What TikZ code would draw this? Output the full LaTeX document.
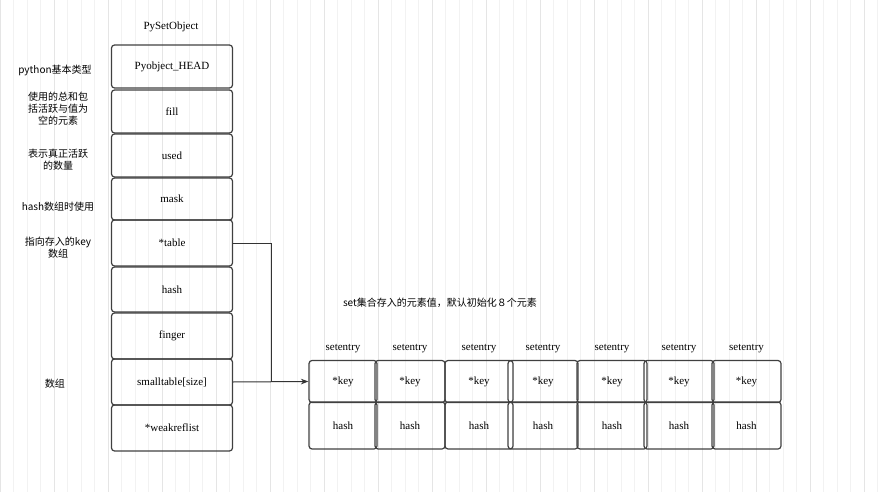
\documentclass[tikz,border=0pt]{standalone}
\usepackage{fontspec}
\setmainfont{Liberation Serif}
\newfontfamily\cjk{Noto Sans CJK SC}
\usetikzlibrary{arrows.meta}
\begin{document}
\begin{tikzpicture}[x=1pt,y=-1pt,>=Stealth,
    cell/.style={draw=black!75,line width=1.2pt,rounded corners=3pt,font=\fontsize{11}{11}\selectfont},
    note/.style={font=\cjk\fontsize{10}{12}\selectfont,align=center,text width=90pt},
    head/.style={font=\fontsize{11}{11}\selectfont}]
  \useasboundingbox (0,0) rectangle (879,492);
  \draw[black!5,step=13.5] (0,0) grid (879,492);
  \draw[black!10,step=54] (0,0) grid (879,492);
  \node[head] (title) at (171,27) {PySetObject};
  % left column
  \foreach \name/\txt/\ya/\yb in {head/Pyobject\_HEAD/45/88, fill/fill/90/133, used/used/134/177,
      mask/mask/178/220, table/*table/220/266, hash/hash/267/312, finger/finger/313/359,
      small/smalltable[size]/359/405, weak/*weakreflist/405/451}
    \node[cell,minimum width=121pt,minimum height={\yb-\ya}] (\name) at (172,{(\ya+\yb)/2}) {\txt};
  \node[note] (n1) at (55,70) {python基本类型};
  \node[note] (n2) at (58,109) {使用的总和包\\括活跃与值为\\空的元素};
  \node[note] (n3) at (58,160) {表示真正活跃\\的数量};
  \node[note] (n4) at (58,207) {hash数组时使用};
  \node[note] (n5) at (58,248) {指向存入的key\\数组};
  \node[note] (n6) at (55,384) {数组};
  \node[note,text width=260pt] (n7) at (440,303) {set集合存入的元素值，默认初始化８个元素};
  % entries
  \foreach \i/\xa/\xb in {1/309/377, 2/375/445, 3/445/513, 4/508/578, 5/577/647, 6/644/714, 7/712/781} {
    \node[head] (s\i) at ({(\xa+\xb)/2},349) {setentry};
    \node[cell,minimum width={\xb-\xa},minimum height=42pt] (k\i) at ({(\xa+\xb)/2},381.5) {*key};
    \node[cell,minimum width={\xb-\xa},minimum height=47pt] (h\i) at ({(\xa+\xb)/2},425.5) {hash};
  }
  \coordinate (bend) at (271,382);
  \draw[line width=1pt,black!80] (table.east) -| (bend);
  \draw[line width=1pt,black!80,->] (small.east) -- (k1.west);
\end{tikzpicture}
\end{document}
